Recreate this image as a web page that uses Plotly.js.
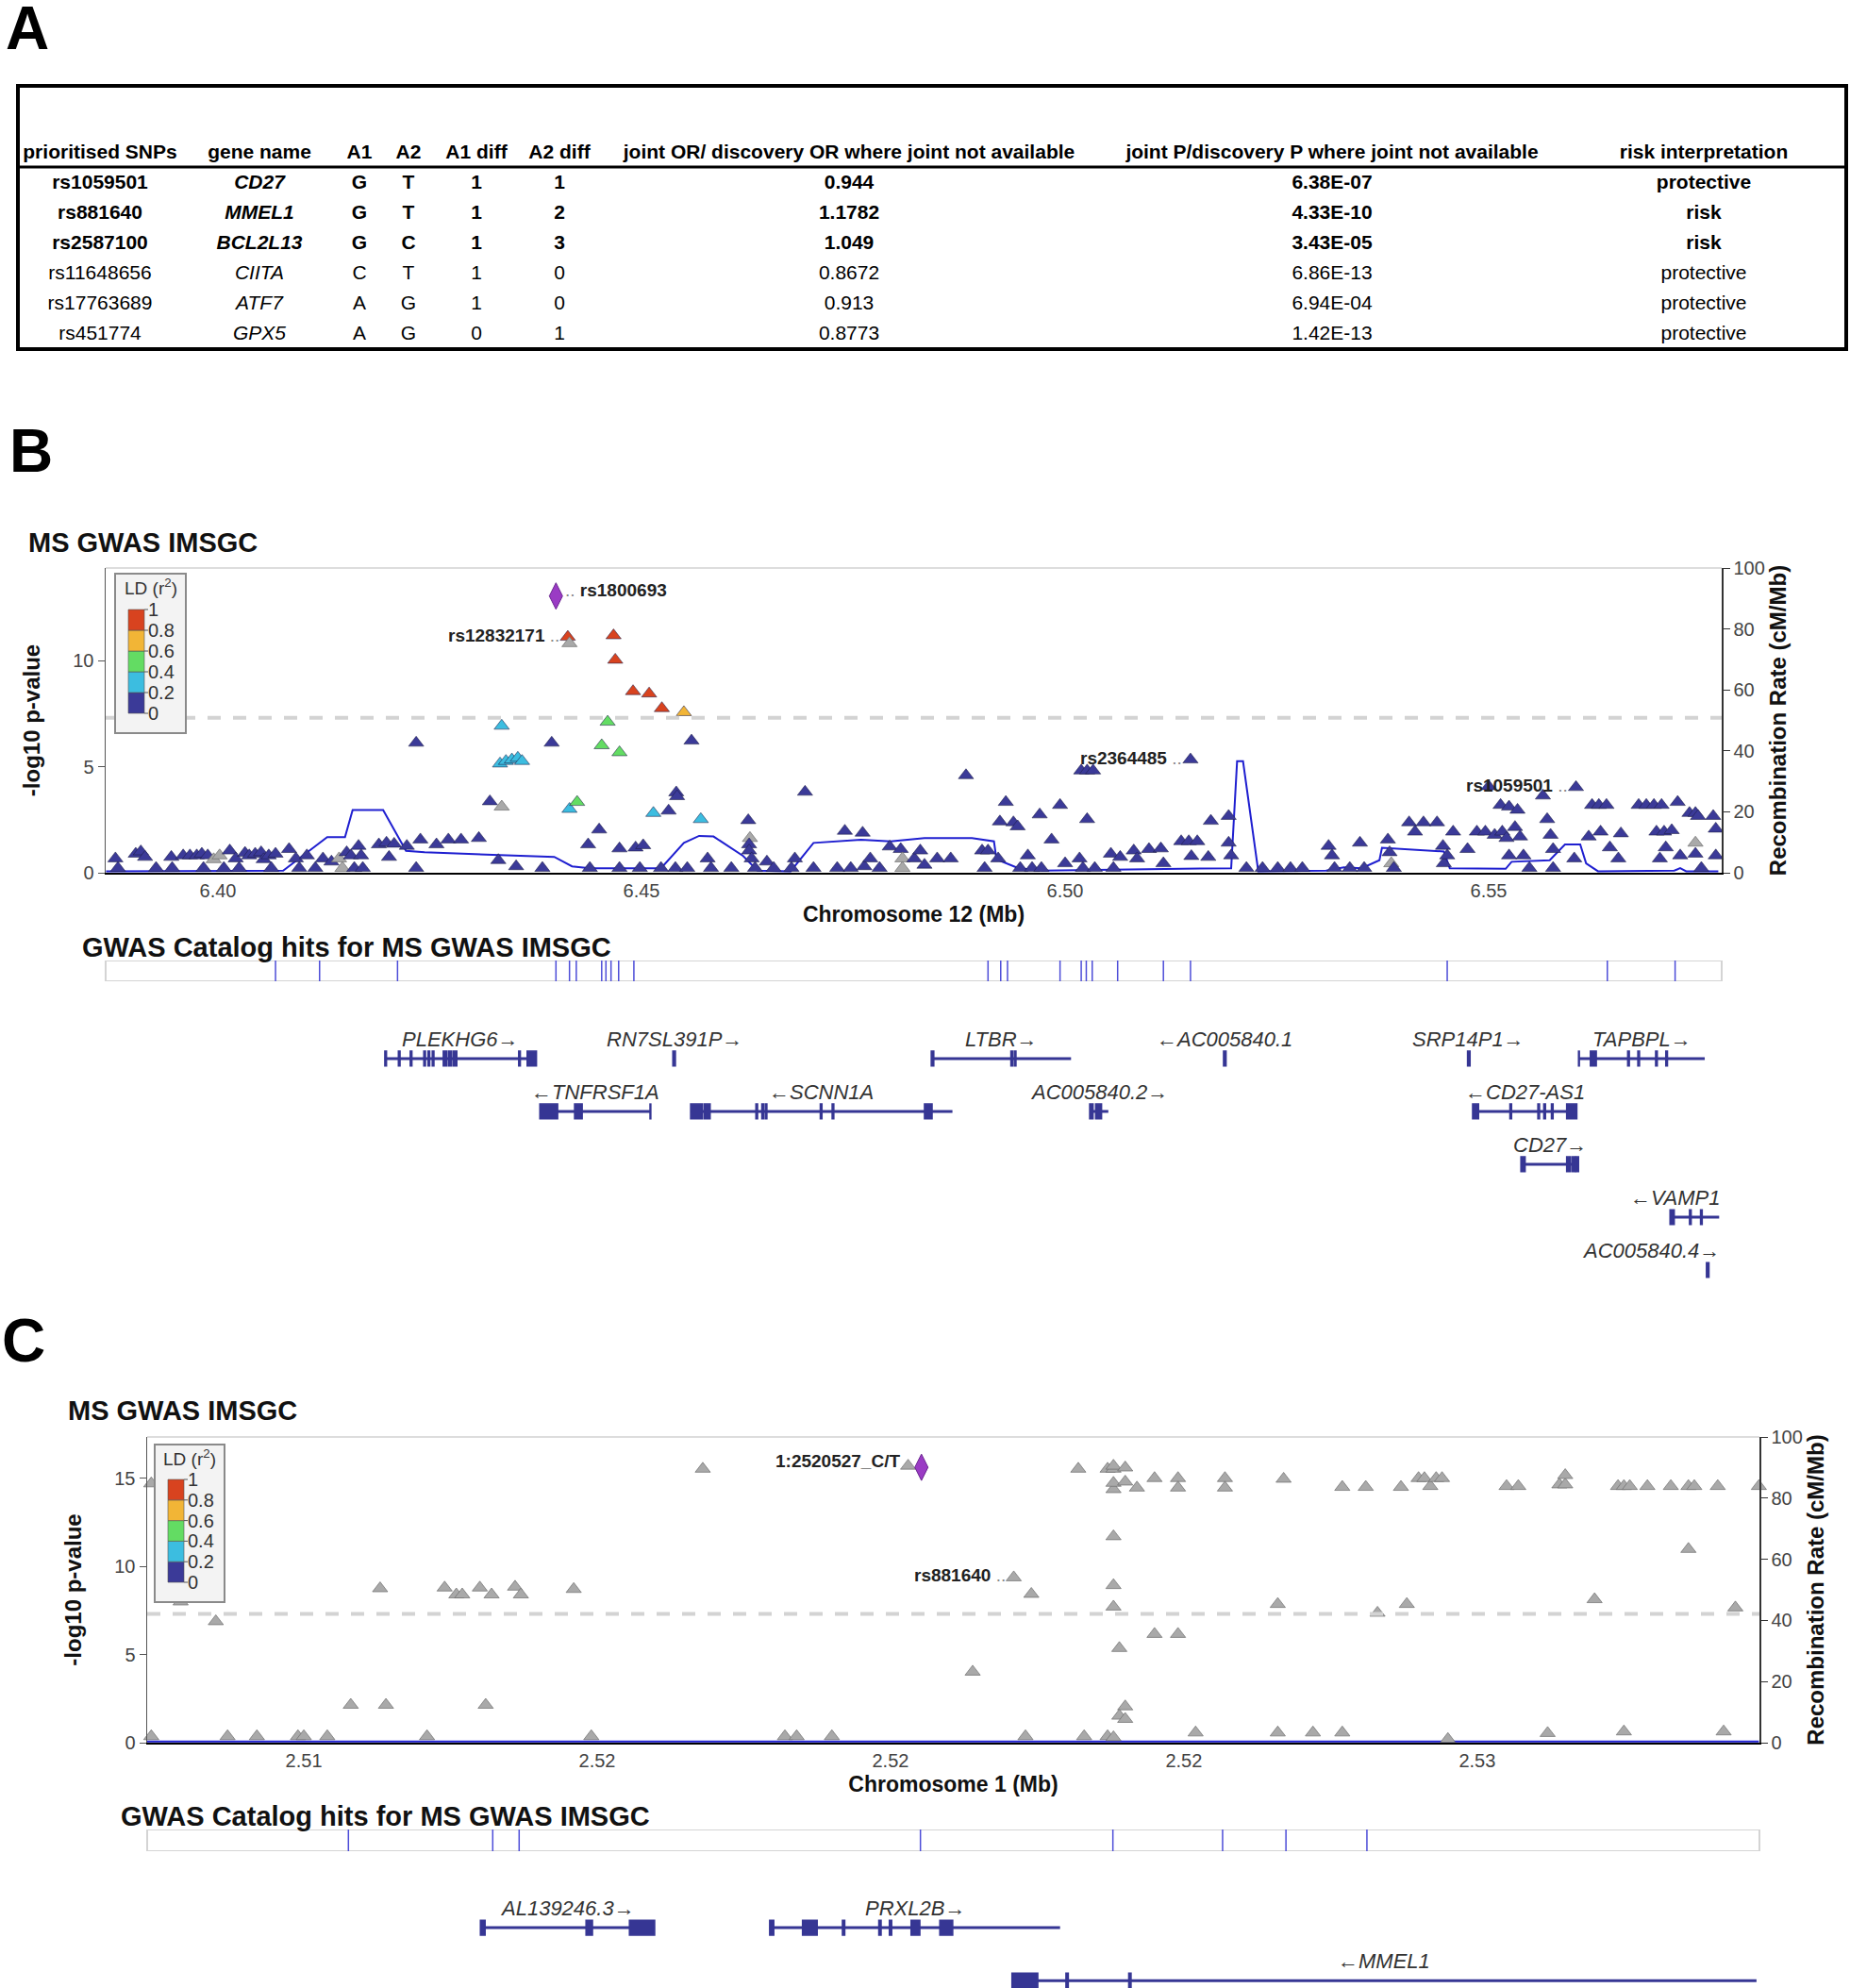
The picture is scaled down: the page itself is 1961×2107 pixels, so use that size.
<!DOCTYPE html>
<html>
<head>
<meta charset="utf-8">
<script src="https://cdn.plot.ly/plotly-3.0.1.min.js"></script>
<style>
html,body{margin:0;padding:0;background:#ffffff;overflow:hidden;}
#fig{width:1961px;height:2107px;}
</style>
</head>
<body>
<div id="fig"></div>
<script>
// ================= DATA =================
// ---- Panel A: prioritised SNP table ----
const tableHeaders = ['prioritised SNPs','gene name','A1','A2','A1 diff','A2 diff',
  'joint OR/ discovery OR where joint not available','joint P/discovery P where joint not available','risk interpretation'];
const snpIds     = ['rs1059501','rs881640','rs2587100','rs11648656','rs17763689','rs451774'];
const geneNames  = ['CD27','MMEL1','BCL2L13','CIITA','ATF7','GPX5'];
const allele1    = ['G','G','G','C','A','A'];
const allele2    = ['T','T','C','T','G','G'];
const a1Diff     = [1,1,1,1,1,0];
const a2Diff     = [1,2,3,0,0,1];
const jointOR    = ['0.944','1.1782','1.049','0.8672','0.913','0.8773'];
const jointP     = ['6.38E-07','4.33E-10','3.43E-05','6.86E-13','6.94E-04','1.42E-13'];
const riskInterp = ['protective','risk','risk','protective','protective','protective'];
const prioritised = [true,true,true,false,false,false];

// ---- Panel B: chr12 locus (Mb, -log10 p, LD r2; null = no LD info) ----
const posB = [
6.3879,6.3882,6.3903,6.3909,6.3914,6.3927,6.3945,6.3946,6.3959,6.3967,
6.3975,6.3981,6.3983,6.3988,6.3995,6.4002,6.4007,6.4014,6.4021,6.4025,
6.4032,6.4037,6.4044,6.4051,6.4054,6.4060,6.4063,6.4068,6.4084,6.4092,
6.4096,6.4105,6.4115,6.4124,6.4134,6.4143,6.4147,6.4152,6.4157,6.4161,
6.4166,6.4169,6.4171,6.4190,6.4199,6.4202,6.4208,6.4223,6.4234,6.4239,
6.4258,6.4272,6.4287,6.4308,6.4331,6.4352,6.4234,6.4321,6.4335,6.4335,
6.4333,6.4340,6.4347,6.4354,6.4359,6.4394,6.4413,6.4415,6.4415,6.4424,
6.4437,6.4450,6.4453,6.4460,6.4467,6.4469,6.4474,6.4474,6.4474,6.4490,
6.4493,6.4498,6.4502,6.4509,6.4514,6.4524,6.4532,6.4541,6.4542,6.4540,
6.4550,6.4559,6.4554,6.4570,6.4578,6.4582,6.4606,6.4626,6.4628,6.4627,
6.4627,6.4630,6.4634,6.4648,6.4656,6.4677,6.4681,6.4693,6.4703,6.4731,
6.4740,6.4747,6.4761,6.4763,6.4770,6.4781,6.4793,6.4806,6.4808,6.4808,
6.4822,6.4829,6.4383,6.4439,6.4523,6.4834,6.4849,6.4865,6.4883,6.4902,
6.4905,6.4909,6.4921,6.4923,6.4930,6.4939,6.4944,6.4947,6.4956,6.4961,
6.4970,6.4972,6.4984,6.4994,6.5000,6.5017,6.5021,6.5019,6.5026,6.5033,
6.5026,6.5035,6.5054,6.5057,6.5065,6.5081,6.5085,6.5099,6.5113,6.5116,
6.5137,6.5146,6.5156,6.5149,6.5148,6.5169,6.5172,6.5193,6.5193,6.5196,
6.5214,6.5233,6.5251,6.5266,6.5280,6.5311,6.5315,6.5318,6.5336,6.5348,
6.5353,6.5381,6.5385,6.5383,6.5388,6.5406,6.5413,6.5423,6.5439,6.5446,
6.5447,6.5451,6.5458,6.5475,6.5486,6.5496,6.5500,6.5507,6.5514,6.5516,
6.5521,6.5524,6.5524,6.5531,6.5534,6.5537,6.5541,6.5548,6.5564,6.5569,
6.5573,6.5576,6.5576,6.5601,6.5603,6.5618,6.5622,6.5630,6.5639,6.5632,
6.5643,6.5653,6.5656,6.5677,6.5686,6.5695,6.5704,6.5698,6.5707,6.5716,
6.5709,6.5702,6.5723,6.5726,6.5737,6.5744,6.5747,6.5744,6.5744,6.5751,
6.5765,6.5768,6.5768];
const logpB = [
0.67,0.22,0.89,1.00,0.74,0.22,0.74,0.22,0.81,0.81,
0.81,0.89,0.22,0.81,0.63,0.81,0.22,1.04,0.67,0.22,
0.93,0.81,0.89,0.96,0.63,0.81,0.22,0.89,1.11,0.67,
0.22,0.81,0.22,0.67,0.52,0.67,0.22,0.96,0.81,0.22,
1.26,0.81,0.22,1.33,1.41,0.74,1.36,1.26,0.22,1.56,
1.33,1.56,1.56,1.63,0.59,0.30,6.12,3.36,3.11,6.92,
5.14,5.26,5.33,5.41,5.26,6.12,11.11,10.81,3.00,3.33,
1.33,2.03,6.00,7.11,11.18,10.03,5.67,1.14,0.22,8.55,
1.18,0.22,1.29,8.44,2.81,7.75,2.92,3.78,3.60,0.22,
7.56,6.22,0.22,2.52,0.67,0.22,0.22,2.47,1.63,1.33,
1.04,0.67,0.22,0.52,0.22,0.22,0.67,3.81,0.22,0.22,
1.97,0.22,1.88,0.30,0.67,0.22,1.23,1.11,0.67,0.22,
0.67,1.04,0.22,0.22,0.22,0.37,0.67,0.67,4.59,1.04,
0.22,1.04,0.67,2.41,3.33,2.37,2.18,0.22,0.81,0.22,
2.74,0.22,1.56,3.19,0.44,0.67,0.22,4.81,4.81,4.81,
2.52,0.22,0.89,0.22,0.74,1.04,0.67,1.11,1.14,0.44,
1.48,1.48,1.48,0.78,5.33,0.74,2.44,2.67,1.41,0.81,
0.22,0.22,0.22,0.22,0.22,1.26,0.81,0.22,0.22,1.41,
0.22,1.56,0.44,0.96,0.22,2.37,1.93,2.37,2.37,1.26,
0.44,0.81,1.93,1.11,1.93,1.93,4.07,1.78,3.19,1.93,
1.63,3.11,0.81,2.15,2.96,1.70,0.81,0.22,3.63,2.52,
1.78,1.11,0.22,0.67,4.03,1.70,3.19,3.19,3.19,1.93,
1.19,0.67,1.85,3.19,3.19,3.19,3.19,1.93,1.93,2.00,
1.19,0.67,3.33,0.81,2.81,2.81,2.67,1.41,0.89,0.22,
2.67,2.07,0.81];
const ldB = [
0.1,0.1,0.1,0.1,0.1,0.1,0.1,0.1,0.1,0.1,
0.1,0.1,0.1,0.1,null,null,0.1,0.1,0.1,0.1,
0.1,0.1,0.1,0.1,0.1,0.1,0.1,0.1,0.1,0.1,
0.1,0.1,0.1,0.1,0.1,null,null,0.1,0.1,0.1,
0.1,0.1,0.1,0.1,0.1,0.1,0.1,0.1,0.1,0.1,
0.1,0.1,0.1,0.1,0.1,0.1,0.1,0.1,null,0.3,
0.3,0.3,0.3,0.3,0.3,0.1,0.9,null,0.3,0.5,
0.1,0.1,0.5,0.5,0.9,0.9,0.5,0.1,0.1,0.9,
0.1,0.1,0.1,0.9,0.3,0.9,0.1,0.1,0.1,0.1,
0.7,0.1,0.1,0.3,0.1,0.1,0.1,0.1,null,0.1,
0.1,0.1,0.1,0.1,0.1,0.1,0.1,0.1,0.1,0.1,
0.1,0.1,0.1,0.1,0.1,0.1,0.1,0.1,null,null,
0.1,0.1,0.1,0.1,0.1,0.1,0.1,0.1,0.1,0.1,
0.1,0.1,0.1,0.1,0.1,0.1,0.1,0.1,0.1,0.1,
0.1,0.1,0.1,0.1,0.1,0.1,0.1,0.1,0.1,0.1,
0.1,0.1,0.1,0.1,0.1,0.1,0.1,0.1,0.1,0.1,
0.1,0.1,0.1,0.1,0.1,0.1,0.1,0.1,0.1,0.1,
0.1,0.1,0.1,0.1,0.1,0.1,0.1,0.1,0.1,0.1,
0.1,0.1,null,0.1,0.1,0.1,0.1,0.1,0.1,0.1,
0.1,0.1,0.1,0.1,0.1,0.1,0.1,0.1,0.1,0.1,
0.1,0.1,0.1,0.1,0.1,0.1,0.1,0.1,0.1,0.1,
0.1,0.1,0.1,0.1,0.1,0.1,0.1,0.1,0.1,0.1,
0.1,0.1,0.1,0.1,0.1,0.1,0.1,0.1,0.1,0.1,
0.1,0.1,0.1,0.1,0.1,0.1,0.1,null,0.1,0.1,
0.1,0.1,0.1];
const leadNameB = 'rs1800693', leadPosB = 6.4399, leadLogpB = 13.04;
const labelNamesB = ['rs12832171','rs2364485','rs1059501'];
const labelPosB   = [6.4413, 6.5148, 6.5603];
const labelLogpB  = [11.11, 5.33, 4.03];
const recombPosB = [6.3868,6.4077,6.4129,6.4150,6.4159,6.4195,6.4222,6.4244,6.4397,6.4418,6.4439,6.4523,
  6.4550,6.4568,6.4585,6.4620,6.4637,6.4676,6.4703,6.4759,6.4794,6.4834,6.4890,6.4916,6.4919,6.4945,6.4973,
  6.5196,6.5203,6.5210,6.5228,6.5308,6.5329,6.5350,6.5371,6.5374,6.5447,6.5454,6.5520,6.5527,6.5572,6.5590,
  6.5608,6.5615,6.5629,6.5719,6.5726,6.5733,6.5771];
const recombRateB = [0.5,0.7,11.7,11.7,20.6,20.6,7.2,6.7,5.2,2.1,1.5,1.5,
  9.8,12.1,11.9,5.5,0.7,0.5,9.8,10.8,10.3,11.4,11.4,10.3,4.4,1.5,0.7,
  1.5,36.6,36.6,0.5,0.7,1.8,1.5,4.1,8.2,7.0,1.5,1.3,3.6,4.1,9.3,
  9.3,3.1,0.5,0.7,1.5,0.5,0.5];
const gwasHitsB = [6.4068,6.4120,6.4212,6.4399,6.4415,6.4423,6.4453,6.4458,6.4464,6.4473,6.4491,
  6.4909,6.4924,6.4932,6.4994,6.5019,6.5025,6.5032,6.5062,6.5116,6.5148,6.5451,6.5640,6.5720];
const geneNameB   = ['PLEKHG6','RN7SL391P','LTBR','AC005840.1','SRP14P1','TAPBPL','TNFRSF1A','SCNN1A','AC005840.2','CD27-AS1','CD27','VAMP1','AC005840.4'];
const geneStrandB = ['+','+','+','-','+','+','-','-','+','-','+','-','+'];
const geneRowB    = [0,0,0,0,0,0,1,1,1,1,2,3,4];
const geneStartB  = [6.4197,6.4537,6.4842,6.5187,6.5475,6.5606,6.4380,6.4558,6.5029,6.5481,6.5538,6.5714,6.5757];
const geneEndB    = [6.4376,6.4540,6.5007,6.5190,6.5478,6.5755,6.4511,6.4867,6.5051,6.5604,6.5606,6.5772,6.5760];
const exonStartB = [
  [6.4197,6.4213,6.4227,6.4243,6.4248,6.4253,6.4266,6.4272,6.4278,6.4355,6.4365],
  [6.4537],[6.4842,6.4936,6.4940],[6.5187],[6.5475],
  [6.5606,6.5620,6.5664,6.5676,6.5697,6.5709],
  [6.4380,6.4421,6.4510],
  [6.4558,6.4574,6.4635,6.4642,6.4646,6.4711,6.4725,6.4834],
  [6.5029,6.5036],
  [6.5481,6.5525,6.5558,6.5565,6.5574,6.5592],
  [6.5538,6.5592,6.5598,6.5603],
  [6.5714,6.5737,6.5750],
  [6.5757]];
const exonEndB = [
  [6.4199,6.4215,6.4229,6.4245,6.4250,6.4255,6.4270,6.4276,6.4282,6.4357,6.4376],
  [6.4540],[6.4845,6.4938,6.4942],[6.5190],[6.5478],
  [6.5607,6.5627,6.5666,6.5678,6.5699,6.5711],
  [6.4401,6.4430,6.4511],
  [6.4572,6.4581,6.4637,6.4644,6.4648,6.4713,6.4727,6.4843],
  [6.5033,6.5043],
  [6.5488,6.5527,6.5560,6.5567,6.5576,6.5604],
  [6.5543,6.5596,6.5602,6.5606],
  [6.5719,6.5739,6.5752],
  [6.5760]];

// ---- Panel C: chr1 locus ----
const posC = [
2.5074,2.5079,2.5085,2.5074,2.5087,2.5092,2.5099,2.5100,2.5104,2.5108,
2.5113,2.5114,2.5121,2.5124,2.5126,2.5127,2.5130,2.5131,2.5132,2.5136,
2.5137,2.5146,2.5149,2.5168,2.5182,2.5184,2.5190,2.5203,2.5214,2.5221,
2.5224,2.5223,2.5232,2.5233,2.5237,2.5238,2.5238,2.5240,2.5237,2.5238,
2.5238,2.5238,2.5240,2.5238,2.5238,2.5238,2.5239,2.5240,2.5239,2.5240,
2.5242,2.5245,2.5245,2.5249,2.5249,2.5249,2.5252,2.5257,2.5257,2.5266,
2.5266,2.5267,2.5272,2.5277,2.5277,2.5281,2.5283,2.5287,2.5288,2.5290,
2.5291,2.5292,2.5293,2.5294,2.5295,2.5305,2.5307,2.5312,2.5314,2.5315,
2.5315,2.5320,2.5324,2.5325,2.5326,2.5325,2.5329,2.5333,2.5336,2.5337,
2.5336,2.5341,2.5342,2.5344,2.5348];
const logpC = [
14.7,8.0,6.88,0.36,0.36,0.36,0.36,0.36,0.36,2.14,
8.75,2.14,0.36,8.79,8.40,8.40,8.79,2.14,8.40,8.84,
8.40,8.71,0.36,15.53,0.36,0.36,0.36,15.70,4.02,9.37,
8.43,0.36,15.53,0.36,15.53,15.53,15.70,15.60,0.36,0.30,
14.37,14.73,14.80,11.70,8.93,7.71,5.36,2.05,1.52,1.34,
14.46,15.00,6.16,6.16,15.00,14.46,0.57,15.00,14.46,7.86,
0.57,14.96,0.57,0.57,14.50,14.50,7.36,14.50,7.86,15.00,
15.00,14.55,15.00,15.00,0.20,14.55,14.55,0.54,14.64,14.64,
15.17,8.13,14.55,14.55,14.55,0.63,14.55,14.55,14.55,14.55,
10.98,14.55,0.63,7.66,14.55];
const leadNameC = '1:2520527_C/T', leadPosC = 2.520527, leadLogpC = 15.62;
const labelNamesC = ['rs881640'];
const labelPosC   = [2.5221];
const labelLogpC  = [9.37];
const recombPosC  = [2.5073, 2.5348];
const recombRateC = [0.4, 0.4];
const gwasHitsC = [2.51076,2.51322,2.51367,2.52051,2.52379,2.52566,2.52674,2.52812];
const geneNameC   = ['AL139246.3','PRXL2B','MMEL1'];
const geneStrandC = ['+','+','-'];
const geneRowC    = [0,0,1];
const geneStartC  = [2.51301,2.51794,2.52207];
const geneEndC    = [2.51598,2.52289,2.53476];
const exonStartC = [[2.51301,2.51481,2.51555],[2.51794,2.51850,2.51918,2.51980,2.51998,2.52035,2.52084],[2.52207,2.52299,2.52406]];
const exonEndC   = [[2.51309,2.51492,2.51598],[2.51801,2.51875,2.51922,2.51984,2.52002,2.52050,2.52106],[2.52251,2.52303,2.52410]];

const ldBreaks = [0,0.2,0.4,0.6,0.8,1];
const sigThreshold = 7.301;

// ================= STYLE =================
const W = 1961, H = 2107;
const PX = v => v / W;
const PY = v => 1 - v / H;
const LZ = 'Liberation Sans, Arial, sans-serif';
const ldColors = ['#3b3a98','#3cbde0','#63dc63','#f2b536','#d8431f'];
const GREY = '#a9a9a9';
const GENE = '#363694';
const RECOMB = '#1f1fd0';
const xRangeB = [6.38675, 6.5775], xRangeC = [2.50733, 2.53481];
const colWidthsPx = [174,164,48,56,88,88,526,498,290];

function ldColor(r){ if(r===null||r===undefined) return GREY; return ldColors[Math.min(4, Math.floor(r/0.2))]; }

const traces = [];
const shapes = [];
const annotations = [];

// ---------- Panel A table (text cells on a hidden axis) ----------
const colCenters = []; let acc = 0;
colWidthsPx.forEach(w => { colCenters.push(acc + w/2); acc += w; });
const tableCols = [snpIds, geneNames, allele1, allele2, a1Diff, a2Diff, jointOR, jointP, riskInterp];
const tX = [], tY = [], tT = [];
tableHeaders.forEach((h,c) => { tX.push(colCenters[c]); tY.push(-1); tT.push('<b>'+h+'</b>'); });
tableCols.forEach((col,c) => col.forEach((v,r) => {
  let s = String(v);
  if (c === 1) s = '<i>'+s+'</i>';
  if (prioritised[r]) s = '<b>'+s+'</b>';
  tX.push(colCenters[c]); tY.push(r); tT.push(s);
}));
traces.push({type:'scatter', mode:'text', x:tX, y:tY, text:tT, xaxis:'x3', yaxis:'y9',
  textposition:'middle center', cliponaxis:false, hoverinfo:'skip',
  textfont:{family:LZ, size:21, color:'#000'}});
shapes.push({type:'rect', xref:'paper', yref:'paper', x0:PX(19), x1:PX(1957), y0:PY(91), y1:PY(370),
  line:{color:'#000', width:4}, fillcolor:'rgba(0,0,0,0)'});
shapes.push({type:'line', xref:'paper', yref:'paper', x0:PX(19), x1:PX(1957), y0:PY(177), y1:PY(177),
  line:{color:'#000', width:3}});

// ---------- helpers for locus panels ----------
function locusPanel(o){
  traces.push({type:'scatter', mode:'lines', x:o.recPos, y:o.recRate, xaxis:o.xa, yaxis:o.yRec,
    line:{color:RECOMB, width:2}, hoverinfo:'skip'});
  traces.push({type:'scatter', mode:'markers', x:o.pos, y:o.logp, xaxis:o.xa, yaxis:o.yP,
    cliponaxis:false, hoverinfo:'skip',
    marker:{symbol:'triangle-up', size:14, color:o.ld.map(ldColor),
      line:{width:1, color:o.ld.map(r => r===null ? 'rgba(110,110,110,0.7)' : 'rgba(30,30,70,0.55)')}}});
  traces.push({type:'scatter', mode:'markers', x:[o.leadPos], y:[o.leadLogp], xaxis:o.xa, yaxis:o.yP,
    cliponaxis:false, hoverinfo:'skip',
    marker:{symbol:'diamond-tall', size:20, color:'#9a3bc4', line:{width:1, color:'#6a2590'}}});
  shapes.push({type:'line', xref:o.xa+' domain', yref:o.yRec+' domain', x0:0, x1:1, y0:1, y1:1,
    line:{color:'#dddddd', width:2}});
  shapes.push({type:'line', xref:o.xa+' domain', yref:o.yP, x0:0, x1:1, y0:sigThreshold, y1:sigThreshold,
    line:{color:'#d3d3d3', width:4, dash:'14px,13px'}});
  o.labNames.forEach((n,i) => annotations.push({xref:o.xa, yref:o.yP, x:o.labPos[i], y:o.labLogp[i],
    text:'<b>'+n+'</b> <span style="color:#888">..</span>', showarrow:false, xanchor:'right', yanchor:'middle',
    xshift:-7, yshift:2, font:{family:LZ, size:19, color:'#222'}}));
  annotations.push(o.leadRight
    ? {xref:o.xa, yref:o.yP, x:o.leadPos, y:o.leadLogp, text:'<span style="color:#888">..</span> <b>'+o.leadName+'</b>',
       showarrow:false, xanchor:'left', yanchor:'middle', xshift:8, yshift:6, font:{family:LZ, size:19, color:'#222'}}
    : {xref:o.xa, yref:o.yP, x:o.leadPos, y:o.leadLogp, text:'<b>'+o.leadName+'</b>',
       showarrow:false, xanchor:'right', yanchor:'middle', xshift:-21, yshift:7, font:{family:LZ, size:19, color:'#222'}});
  // LD legend
  const L = o.leg;
  shapes.push({type:'rect', xref:'paper', yref:'paper', x0:PX(L.x0), x1:PX(L.x1), y0:PY(L.y0), y1:PY(L.y1),
    fillcolor:'#f3f3f3', line:{color:'#8a8a8a', width:2}, layer:'above'});
  const bh = (L.bBot - L.bTop) / (ldBreaks.length - 1);
  for (let i = 0; i < ldBreaks.length - 1; i++) {
    shapes.push({type:'rect', xref:'paper', yref:'paper', x0:PX(L.bx0), x1:PX(L.bx1),
      y0:PY(L.bBot - i*bh), y1:PY(L.bBot - (i+1)*bh), fillcolor:ldColors[i],
      line:{color:'#555', width:0.6}, layer:'above'});
  }
  ldBreaks.forEach((b,i) => {
    const yy = L.bBot - i*bh;
    shapes.push({type:'line', xref:'paper', yref:'paper', x0:PX(L.bx1), x1:PX(L.bx1+4), y0:PY(yy), y1:PY(yy),
      line:{color:'#555', width:1}, layer:'above'});
    annotations.push({xref:'paper', yref:'paper', x:PX(L.bx1+2), y:PY(yy), text:String(b), showarrow:false,
      xanchor:'left', yanchor:'middle', font:{family:LZ, size:20, color:'#333'}});
  });
  annotations.push({xref:'paper', yref:'paper', x:PX((L.x0+L.x1)/2), y:PY(L.tY), text:'LD (r<sup>2</sup>)',
    showarrow:false, xanchor:'center', yanchor:'middle', font:{family:LZ, size:19, color:'#333'}});
  // GWAS catalog track
  const hx = [], hy = [];
  o.hits.forEach(h => { hx.push(h, h, null); hy.push(0, 1, null); });
  shapes.push({type:'rect', xref:o.xa+' domain', yref:o.yCat, x0:0, x1:1, y0:0, y1:1,
    fillcolor:'#ffffff', line:{color:'#d4d4d4', width:2}, layer:'below'});
  traces.push({type:'scatter', mode:'lines', x:hx, y:hy, xaxis:o.xa, yaxis:o.yCat,
    line:{color:'#4d4dd8', width:1.5}, hoverinfo:'skip'});
  // genes
  const gx = [], gy = [];
  const mbPerPx = (o.xr[1] - o.xr[0]) / o.plotPx;
  o.gName.forEach((n,i) => {
    gx.push(o.gStart[i], o.gEnd[i], null); gy.push(o.gRow[i], o.gRow[i], null);
    o.exS[i].forEach((s,k) => shapes.push({type:'rect', xref:o.xa, yref:o.yGene, x0:s, x1:o.exE[i][k],
      y0:o.gRow[i]-0.14, y1:o.gRow[i]+0.14, fillcolor:GENE, line:{color:GENE, width:1.5}}));
    const lab = o.gStrand[i] === '+' ? n+'→' : '←'+n;
    const half = lab.length * 11.5 / 2 * mbPerPx;
    let cx = (o.gStart[i] + o.gEnd[i]) / 2, anc = 'center';
    if (cx + half > o.xr[1]) { cx = o.xr[1]; anc = 'right'; }
    if (cx - half < o.xr[0]) { cx = o.xr[0]; anc = 'left'; }
    annotations.push({xref:o.xa, yref:o.yGene, x:cx, y:o.gRow[i]-0.36, text:'<i>'+lab+'</i>', showarrow:false,
      xanchor:anc, yanchor:'middle', font:{family:LZ, size:22, color:'#333'}});
  });
  traces.push({type:'scatter', mode:'lines', x:gx, y:gy, xaxis:o.xa, yaxis:o.yGene,
    line:{color:GENE, width:3}, hoverinfo:'skip'});
}

locusPanel({xa:'x', yRec:'y', yP:'y2', yCat:'y3', yGene:'y4', xr:xRangeB, plotPx:1713,
  pos:posB, logp:logpB, ld:ldB, leadPos:leadPosB, leadLogp:leadLogpB, leadName:leadNameB, leadRight:true,
  labNames:labelNamesB, labPos:labelPosB, labLogp:labelLogpB, recPos:recombPosB, recRate:recombRateB,
  hits:gwasHitsB, gName:geneNameB, gStrand:geneStrandB, gRow:geneRowB, gStart:geneStartB, gEnd:geneEndB,
  exS:exonStartB, exE:exonEndB,
  leg:{x0:122, x1:197, y0:608, y1:777, bx0:136, bx1:153, bTop:646, bBot:756, tY:622}});

locusPanel({xa:'x2', yRec:'y5', yP:'y6', yCat:'y7', yGene:'y8', xr:xRangeC, plotPx:1709,
  pos:posC, logp:logpC, ld:posC.map(() => null), leadPos:leadPosC, leadLogp:leadLogpC, leadName:leadNameC, leadRight:false,
  labNames:labelNamesC, labPos:labelPosC, labLogp:labelLogpC, recPos:recombPosC, recRate:recombRateC,
  hits:gwasHitsC, gName:geneNameC, gStrand:geneStrandC, gRow:geneRowC, gStart:geneStartC, gEnd:geneEndC,
  exS:exonStartC, exE:exonEndC,
  leg:{x0:164, x1:238, y0:1531, y1:1698, bx0:178, bx1:195, bTop:1568, bBot:1677, tY:1545}});

// ---------- text labels (panel letters / titles) ----------
const bigLetter = (t,x,y) => ({xref:'paper', yref:'paper', x:PX(x), y:PY(y), text:'<b>'+t+'</b>', showarrow:false,
  xanchor:'left', yanchor:'middle', font:{family:LZ, size:64, color:'#000'}});
annotations.push(bigLetter('A',4,30), bigLetter('B',8,478), bigLetter('C',0,1421));
const ttl = (t,x,y) => ({xref:'paper', yref:'paper', x:PX(x), y:PY(y), text:'<b>'+t+'</b>', showarrow:false,
  xanchor:'left', yanchor:'middle', font:{family:LZ, size:29, color:'#111'}});
annotations.push(ttl('MS GWAS IMSGC',28,575), ttl('GWAS Catalog hits for MS GWAS IMSGC',85,1004),
  ttl('MS GWAS IMSGC',70,1495), ttl('GWAS Catalog hits for MS GWAS IMSGC',126,1925));

// ---------- axes ----------
const tickF = {family:LZ, size:20, color:'#444'};
const axTitleF = {family:LZ, size:24, color:'#111'};
function xAx(domain, anchor, range, tv, tt, title){
  return {domain, anchor, range, tickvals:tv, ticktext:tt, showline:true, linecolor:'#000', linewidth:2,
    ticks:'', showgrid:false, zeroline:false, tickfont:tickF,
    title:{text:'<b>'+title+'</b>', font:{family:LZ, size:23, color:'#111'}, standoff:7}};
}
function recAx(domain, anchor){
  return {domain, anchor, side:'right', range:[0,100], tickvals:[0,20,40,60,80,100], showline:true,
    linecolor:'#333', linewidth:1.5, ticks:'outside', ticklen:7, tickcolor:'#333', tickfont:tickF,
    showgrid:false, zeroline:false, title:{text:'<b>Recombination Rate (cM/Mb)</b>', font:axTitleF, standoff:4}};
}
function pAx(over, anchor, range, tv){
  return {overlaying:over, anchor, side:'left', range, tickvals:tv, showline:true, linecolor:'#555',
    linewidth:1.5, ticks:'outside', ticklen:7, tickcolor:'#555', tickfont:tickF, showgrid:false, zeroline:false,
    title:{text:'<b>-log10 p-value</b>', font:axTitleF, standoff:28}};
}
const hidden = (domain, anchor, range) => ({domain, anchor, range, visible:false, showgrid:false, zeroline:false});

const layout = {
  width:W, height:H, margin:{l:0, r:0, t:0, b:0}, paper_bgcolor:'#ffffff', plot_bgcolor:'rgba(0,0,0,0)',
  showlegend:false, font:{family:LZ, color:'#333'},
  xaxis: xAx([PX(112), PX(1825)], 'y', xRangeB, [6.40,6.45,6.50,6.55], ['6.40','6.45','6.50','6.55'], 'Chromosome 12 (Mb)'),
  yaxis: recAx([PY(925), PY(602)], 'x'),
  yaxis2: pAx('y', 'x', [0,14.36], [0,5,10]),
  yaxis3: hidden([PY(1040), PY(1018)], 'x', [0,1]),
  yaxis4: hidden([PY(1360), PY(1090)], 'x', [4.25,-0.57]),
  xaxis2: xAx([PX(156), PX(1865)], 'y5', xRangeC, [2.510,2.515,2.520,2.525,2.530], ['2.51','2.52','2.52','2.52','2.53'], 'Chromosome 1 (Mb)'),
  yaxis5: recAx([PY(1847), PY(1523)], 'x2'),
  yaxis6: pAx('y5', 'x2', [0,17.34], [0,5,10,15]),
  yaxis7: hidden([PY(1962), PY(1939)], 'x2', [0,1]),
  yaxis8: hidden([PY(2107), PY(2010)], 'x2', [1.14,-0.59]),
  xaxis3: hidden([PX(19), PX(1951)], 'y9', [0, acc]),
  yaxis9: hidden([PY(370), PY(91)], 'x3', [5.47,-3.25]),
  shapes, annotations
};

Plotly.newPlot('fig', traces, layout, {displayModeBar:false, staticPlot:true});
</script>
</body>
</html>
